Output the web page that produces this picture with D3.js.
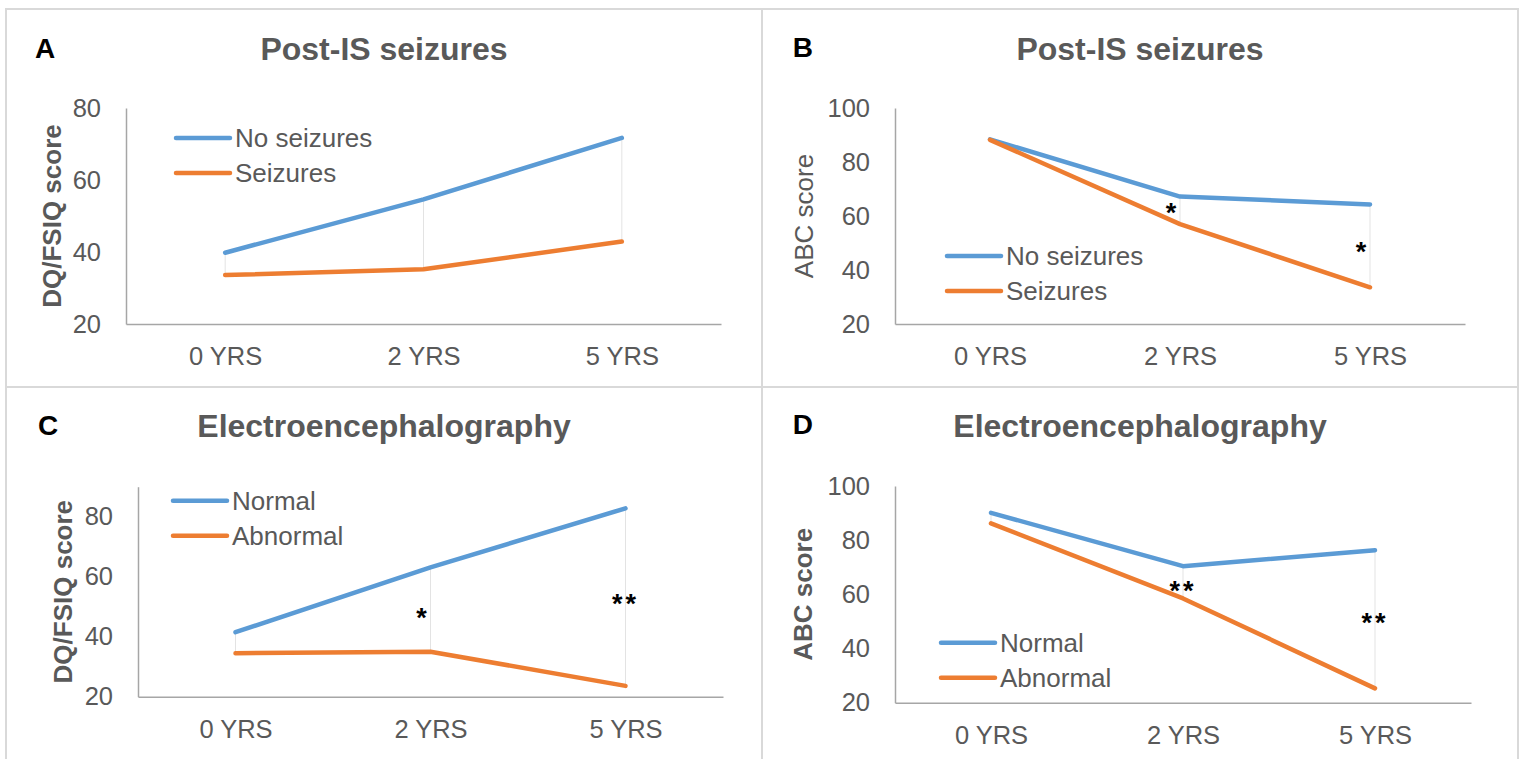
<!DOCTYPE html>
<html>
<head>
<meta charset="utf-8">
<script src="https://cdn.jsdelivr.net/npm/d3@7"></script>
<style>
  html, body { margin: 0; padding: 0; background: #ffffff; }
  svg { display: block; font-family: "Liberation Sans", Arial, sans-serif; }
</style>
</head>
<body>
<svg id="fig" width="1525" height="759"></svg>
<script>
// Follow-up time points
const years = ["0 YRS", "2 YRS", "5 YRS"];

// DQ/FSIQ by post-IS seizure status
const dqNoSeizures = [39.8, 54.6, 71.7];
const dqSeizures   = [33.6, 35.2, 42.9];

// ABC by post-IS seizure status
const abcNoSeizures = [88.4, 67.2, 64.3];
const abcSeizures   = [88.2, 57.0, 33.6];

// DQ/FSIQ by EEG result
const dqNormal   = [41.5, 63.1, 82.8];
const dqAbnormal = [34.5, 35.0, 23.6];

// ABC by EEG result
const abcNormal   = [90.1, 70.4, 76.3];
const abcAbnormal = [86.2, 58.5, 25.3];

// Axis ticks
const ticksDqA = [20, 40, 60, 80];
const ticksAbc = [20, 40, 60, 80, 100];
const ticksDqC = [20, 40, 60, 80];

// Significance markers (value = vertical centre of the marker)
const sigB = [{ year: "2 YRS", value: 63.3, mark: "*" }, { year: "5 YRS", value: 49.0, mark: "*" }];
const sigC = [{ year: "2 YRS", value: 48.1, mark: "*" }, { year: "5 YRS", value: 52.8, mark: "**" }];
const sigD = [{ year: "2 YRS", value: 63.4, mark: "**" }, { year: "5 YRS", value: 51.5, mark: "**" }];

const BLUE = "#5B9BD5", ORANGE = "#ED7D31", TEXT = "#595959", AXIS = "#a6a6a6";

const panels = [
  {
    letter: "A", letterPos: [35, 57.5], title: "Post-IS seizures", titleY: 60,
    frame: [6, 9, 756, 378],
    yLabel: "DQ/FSIQ score", yBold: true, yLabelX: 52,
    plot: { x0: 126, x1: 721, y0: 108, y1: 324 }, domain: [20, 80], ticks: ticksDqA,
    series: [{ name: "No seizures", values: dqNoSeizures, color: BLUE },
             { name: "Seizures", values: dqSeizures, color: ORANGE }],
    legend: { x: 176, y: 138 }, notes: []
  },
  {
    letter: "B", letterPos: [792.7, 57], title: "Post-IS seizures", titleY: 59.5,
    frame: [762, 9, 756, 378],
    yLabel: "ABC score", yBold: false, yLabelX: 804,
    plot: { x0: 895, x1: 1465, y0: 108, y1: 324 }, domain: [20, 100], ticks: ticksAbc,
    series: [{ name: "No seizures", values: abcNoSeizures, color: BLUE },
             { name: "Seizures", values: abcSeizures, color: ORANGE }],
    legend: { x: 947, y: 256 }, notes: sigB
  },
  {
    letter: "C", letterPos: [38, 435], title: "Electroencephalography", titleY: 436.7,
    frame: [6, 387, 756, 400],
    yLabel: "DQ/FSIQ score", yBold: true, yLabelX: 62.5,
    plot: { x0: 138, x1: 723, y0: 486.7, y1: 696.7 }, domain: [20, 90], ticks: ticksDqC,
    series: [{ name: "Normal", values: dqNormal, color: BLUE },
             { name: "Abnormal", values: dqAbnormal, color: ORANGE }],
    legend: { x: 173, y: 500.7 }, notes: sigC
  },
  {
    letter: "D", letterPos: [792.7, 434], title: "Electroencephalography", titleY: 436.7,
    frame: [762, 387, 756, 400],
    yLabel: "ABC score", yBold: true, yLabelX: 803,
    plot: { x0: 895, x1: 1471, y0: 486, y1: 702.7 }, domain: [20, 100], ticks: ticksAbc,
    series: [{ name: "Normal", values: abcNormal, color: BLUE },
             { name: "Abnormal", values: abcAbnormal, color: ORANGE }],
    legend: { x: 941, y: 642.7 }, notes: sigD
  }
];

const svg = d3.select("#fig");

panels.forEach(p => {
  const g = svg.append("g");
  const [fx, fy, fw, fh] = p.frame;

  // panel border
  g.append("rect")
    .attr("x", fx).attr("y", fy).attr("width", fw).attr("height", fh)
    .attr("fill", "none").attr("stroke", "#d9d9d9").attr("stroke-width", 2);

  // panel letter and title
  g.append("text")
    .attr("x", p.letterPos[0]).attr("y", p.letterPos[1])
    .attr("font-size", 28).attr("font-weight", "bold").attr("fill", "#000")
    .text(p.letter);
  g.append("text")
    .attr("x", fx + fw / 2).attr("y", p.titleY)
    .attr("text-anchor", "middle")
    .attr("font-size", 32).attr("font-weight", "bold").attr("fill", TEXT)
    .text(p.title);

  const x = d3.scalePoint().domain(years).range([p.plot.x0, p.plot.x1]).padding(0.5);
  const y = d3.scaleLinear().domain(p.domain).range([p.plot.y1, p.plot.y0]);

  // y axis
  const ya = g.append("g")
    .attr("transform", `translate(${p.plot.x0},0)`)
    .call(d3.axisLeft(y).tickValues(p.ticks).tickSize(0).tickPadding(25).tickFormat(d3.format("d")));
  ya.select(".domain").attr("stroke", AXIS).attr("stroke-width", 1.5);
  ya.selectAll(".tick text")
    .attr("font-size", 25.5).attr("fill", TEXT)
    .attr("font-family", "Liberation Sans, Arial, sans-serif");

  // x axis
  const xa = g.append("g")
    .attr("transform", `translate(0,${p.plot.y1})`)
    .call(d3.axisBottom(x).tickSize(0).tickPadding(23));
  xa.select(".domain").attr("stroke", AXIS).attr("stroke-width", 1.5);
  xa.selectAll(".tick text")
    .attr("font-size", 25.5).attr("fill", TEXT)
    .attr("font-family", "Liberation Sans, Arial, sans-serif");

  // y axis title
  const ymid = (p.plot.y0 + p.plot.y1) / 2;
  g.append("text")
    .attr("transform", `translate(${p.yLabelX},${ymid}) rotate(-90)`)
    .attr("text-anchor", "middle").attr("dominant-baseline", "central")
    .attr("font-size", 26).attr("font-weight", p.yBold ? "bold" : "normal").attr("fill", TEXT)
    .text(p.yLabel);

  // high-low connectors between the two series
  g.append("g").selectAll("line")
    .data(years)
    .join("line")
    .attr("x1", d => x(d)).attr("x2", d => x(d))
    .attr("y1", (d, i) => y(p.series[0].values[i]))
    .attr("y2", (d, i) => y(p.series[1].values[i]))
    .attr("stroke", "#e3e3e3").attr("stroke-width", 1);

  // series lines
  const line = d3.line().x((d, i) => x(years[i])).y(d => y(d));
  p.series.forEach(s => {
    g.append("path")
      .attr("d", line(s.values))
      .attr("fill", "none").attr("stroke", s.color)
      .attr("stroke-width", 4.5)
      .attr("stroke-linecap", "round").attr("stroke-linejoin", "round");
  });

  // legend
  p.series.forEach((s, i) => {
    const ly = p.legend.y + i * 35;
    g.append("line")
      .attr("x1", p.legend.x).attr("x2", p.legend.x + 54)
      .attr("y1", ly).attr("y2", ly)
      .attr("stroke", s.color).attr("stroke-width", 4.5).attr("stroke-linecap", "round");
    g.append("text")
      .attr("x", p.legend.x + 59).attr("y", ly + 9)
      .attr("font-size", 26).attr("fill", TEXT)
      .text(s.name);
  });

  // significance markers
  g.append("g").selectAll("text")
    .data(p.notes)
    .join("text")
    .attr("x", d => d.mark.length === 1 ? x(d.year) - 9 : x(d.year))
    .attr("y", d => y(d.value) + 15)
    .attr("text-anchor", "middle")
    .attr("font-size", 27).attr("font-weight", "bold").attr("fill", "#000")
    .attr("letter-spacing", d => d.mark.length > 1 ? 3 : 0)
    .text(d => d.mark);
});
</script>
</body>
</html>
